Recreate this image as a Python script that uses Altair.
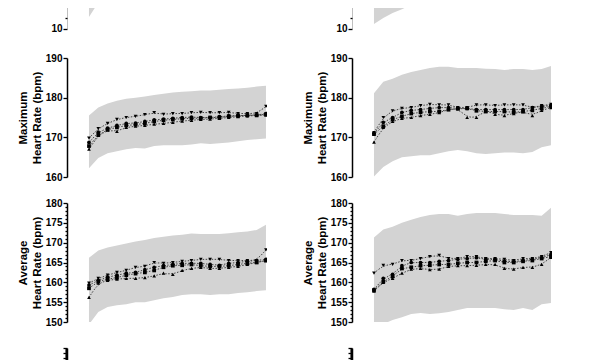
import altair as alt
import pandas as pd

x_index = list(range(1, 21))
series_names = ["A", "B", "C", "D"]
shape_range = ["triangle-down", "circle", "square", "triangle-up"]

# ---- top partial panels (only the lower edge of the band is visible) ----
top_left_lo = [11.1, 12.4, 13.2, 13.8, 14.2, 14.5, 14.7, 14.9, 15.0, 15.1,
               15.2, 15.3, 15.3, 15.4, 15.4, 15.5, 15.5, 15.6, 15.6, 15.7]
top_left_hi = [19.5, 21.0, 21.8, 22.3, 22.6, 22.8, 23.0, 23.1, 23.2, 23.3,
               23.3, 23.4, 23.4, 23.5, 23.5, 23.6, 23.6, 23.7, 23.7, 23.8]
top_right_lo = [10.45, 11.0, 11.45, 11.8, 12.2, 12.55, 12.9, 13.1, 13.3, 13.4,
                13.5, 13.6, 13.6, 13.7, 13.7, 13.8, 13.8, 13.9, 13.9, 14.0]
top_right_hi = [19.0, 20.5, 21.3, 21.8, 22.1, 22.4, 22.6, 22.7, 22.8, 22.9,
                23.0, 23.0, 23.1, 23.1, 23.2, 23.2, 23.3, 23.3, 23.4, 23.5]

# ---- Maximum heart rate, left ----
maxL_hi = [175.5, 177.5, 178.5, 179.2, 179.7, 180.0, 180.3, 180.7, 181.0, 181.3,
           181.5, 181.6, 181.8, 181.8, 182.0, 182.2, 182.3, 182.5, 182.8, 183.0]
maxL_lo = [162.2, 164.8, 166.0, 166.5, 167.0, 167.3, 167.2, 167.8, 168.0, 168.0,
           168.0, 168.2, 168.5, 168.3, 168.5, 168.7, 169.0, 169.3, 169.5, 169.7]
maxL_A = [169.8, 172.2, 173.5, 174.5, 175.0, 175.3, 175.7, 176.2, 175.8, 176.0,
          176.0, 176.2, 176.3, 176.2, 176.2, 176.3, 176.0, 176.0, 176.0, 177.8]
maxL_B = [168.7, 171.3, 172.3, 173.0, 173.5, 173.6, 174.0, 174.4, 174.6, 174.8,
          175.0, 175.1, 175.0, 175.0, 175.2, 175.4, 175.5, 175.5, 175.6, 176.0]
maxL_C = [167.8, 170.6, 172.0, 172.5, 173.0, 173.2, 173.5, 174.0, 174.3, 174.5,
          174.7, 174.8, 174.8, 175.0, 175.0, 175.3, 175.4, 175.6, 175.6, 175.8]
maxL_D = [167.0, 170.5, 171.8, 171.5, 172.5, 172.8, 173.0, 173.3, 173.5, 173.8,
          174.1, 174.3, 174.5, 174.6, 174.8, 175.0, 175.2, 175.4, 175.5, 175.6]

# ---- Maximum heart rate, right ----
maxR_hi = [181.1, 184.0, 184.8, 185.8, 186.5, 187.0, 187.5, 187.8, 187.8, 187.5,
           187.5, 187.5, 187.3, 187.2, 187.0, 187.2, 187.2, 187.0, 187.2, 188.0]
maxR_lo = [160.1, 162.5, 164.0, 165.0, 165.2, 165.5, 165.5, 166.0, 166.5, 166.8,
           166.5, 166.0, 165.8, 166.0, 166.2, 166.2, 166.0, 166.3, 167.5, 168.0]
maxR_A = [171.2, 175.0, 176.7, 177.3, 177.5, 178.0, 178.3, 178.2, 178.2, 177.5,
          177.5, 178.2, 178.2, 178.0, 178.2, 178.2, 178.2, 177.5, 178.0, 178.3]
maxR_B = [171.0, 173.8, 175.0, 176.3, 176.8, 177.0, 177.3, 177.5, 177.5, 177.3,
          177.3, 177.0, 177.0, 177.0, 177.0, 177.0, 177.0, 177.5, 177.8, 178.0]
maxR_C = [170.8, 172.8, 174.5, 175.3, 176.0, 176.3, 176.5, 176.5, 177.0, 177.2,
          177.3, 176.7, 176.5, 176.5, 176.5, 176.3, 176.5, 176.8, 177.3, 177.8]
maxR_D = [168.8, 172.5, 174.0, 174.8, 175.0, 175.5, 175.8, 176.2, 177.0, 177.3,
          175.0, 175.0, 176.8, 175.8, 175.5, 176.0, 176.5, 175.5, 176.8, 177.5]

# ---- Average heart rate, left ----
avgL_hi = [166.2, 168.0, 168.8, 169.3, 169.8, 170.3, 170.7, 171.2, 171.5, 171.8,
           172.0, 172.3, 172.2, 172.2, 172.2, 172.4, 172.6, 172.8, 173.2, 174.5]
avgL_lo = [149.4, 152.5, 153.8, 154.2, 154.5, 155.0, 155.0, 155.5, 156.0, 156.3,
           156.8, 157.0, 157.0, 156.8, 157.0, 157.0, 157.3, 157.5, 157.8, 158.0]
avgL_A = [159.8, 161.0, 161.8, 162.5, 163.0, 163.8, 164.0, 165.0, 164.8, 165.0,
          165.3, 165.5, 165.8, 165.8, 165.8, 165.5, 165.5, 165.5, 165.5, 168.2]
avgL_B = [159.3, 160.5, 161.3, 161.8, 162.3, 162.5, 163.2, 163.8, 164.2, 164.5,
          164.8, 164.8, 164.8, 164.5, 164.3, 164.8, 165.0, 165.3, 165.5, 165.8]
avgL_C = [158.5, 160.2, 160.8, 161.2, 161.8, 162.2, 162.5, 163.0, 163.8, 164.2,
          164.3, 164.5, 164.2, 164.0, 164.0, 164.2, 164.5, 164.8, 165.0, 165.5]
avgL_D = [156.2, 159.8, 160.5, 160.8, 161.0, 161.0, 161.2, 161.6, 162.3, 162.0,
          163.0, 163.5, 163.8, 163.5, 163.5, 163.8, 164.0, 164.5, 165.0, 165.5]

# ---- Average heart rate, right ----
avgR_hi = [171.3, 173.3, 174.0, 175.0, 175.8, 176.5, 177.0, 177.2, 177.2, 176.8,
           177.2, 177.5, 177.5, 177.5, 177.2, 177.0, 177.0, 177.0, 176.8, 178.8]
avgR_lo = [147.5, 149.5, 150.5, 151.2, 152.0, 152.3, 152.0, 152.2, 152.5, 153.0,
           153.5, 153.5, 153.5, 153.5, 153.2, 153.0, 153.5, 153.0, 154.5, 154.8]
avgR_A = [162.3, 164.3, 164.5, 165.5, 165.5, 166.0, 166.5, 166.8, 166.0, 166.0,
          166.5, 166.5, 166.0, 166.0, 165.8, 165.5, 166.0, 166.0, 166.5, 167.5]
avgR_B = [158.2, 161.0, 162.0, 164.2, 165.0, 165.0, 165.0, 165.3, 165.5, 165.8,
          166.0, 166.2, 165.8, 165.8, 165.3, 165.2, 165.5, 165.8, 166.2, 167.0]
avgR_C = [158.0, 160.2, 161.5, 163.5, 163.8, 164.2, 164.3, 164.5, 164.5, 164.8,
          165.0, 165.0, 165.3, 165.5, 165.0, 165.0, 165.3, 165.5, 166.0, 166.5]
avgR_D = [157.8, 160.0, 161.0, 162.3, 163.3, 163.5, 163.2, 163.3, 164.0, 164.2,
          164.2, 164.3, 164.5, 164.5, 163.5, 163.3, 163.8, 163.8, 164.5, 166.3]

max_ticks = [160, 170, 180, 190]
avg_ticks = list(range(150, 181))
top_ticks = [10, 11]
top_domain = [9.727, 11.91]
bottom_ticks = list(range(0, 31))

FONT = "Liberation Sans"
W = 200
xscale = alt.Scale(domain=[-1.36, 20.11], nice=False, zero=False)


def make_axis(values, major_test, labels=True, domain=True):
    kw = dict(
        values=values,
        labelExpr=f"({major_test}) ? datum.label : ''",
        tickSize={"condition": {"test": major_test, "value": 4}, "value": 2},
        labelOverlap=False,
        labelPadding=1,
        titlePadding=3,
        grid=False,
        domain=domain,
    )
    if not labels:
        kw["labels"] = False
    return alt.Axis(**kw)


def panel(lo, hi, series, domain, axis, title, height, axis_rule=None):
    band = pd.DataFrame({"x": x_index, "lo": lo, "hi": hi})
    yscale = alt.Scale(domain=domain, nice=False, zero=False)
    area = alt.Chart(band).mark_area(color="#d3d3d3", clip=True).encode(
        x=alt.X("x:Q", scale=xscale, axis=None),
        y=alt.Y("lo:Q", scale=yscale, axis=axis, title=title),
        y2="hi:Q",
    )
    layers = [area]
    if series:
        rows = []
        for name, vals in zip(series_names, series):
            for xi, v in zip(x_index, vals):
                rows.append({"x": xi, "v": v, "s": name})
        df = pd.DataFrame(rows)
        lines = alt.Chart(df).mark_line(
            strokeDash=[1.5, 1.5], color="#333333", strokeWidth=0.9,
            interpolate="basis", clip=True,
        ).encode(
            x=alt.X("x:Q", scale=xscale, axis=None),
            y=alt.Y("v:Q", scale=yscale, axis=axis, title=title),
            detail="s:N",
        )
        pts = alt.Chart(df).mark_point(
            filled=True, color="black", opacity=1, size=14, clip=True
        ).encode(
            x=alt.X("x:Q", scale=xscale, axis=None),
            y=alt.Y("v:Q", scale=yscale, axis=axis, title=title),
            shape=alt.Shape("s:N", scale=alt.Scale(domain=series_names, range=shape_range), legend=None),
        )
        layers += [lines, pts]
    if axis_rule is not None:
        rule_df = pd.DataFrame({"a": [axis_rule[0]], "b": [axis_rule[1]]})
        rule = alt.Chart(rule_df).mark_rule(color="black", strokeWidth=1.5, clip=True).encode(
            x=alt.value(-0.5),
            y=alt.Y("a:Q", scale=yscale, axis=axis, title=title),
            y2="b:Q",
        )
        layers.append(rule)
    return alt.layer(*layers).properties(width=W, height=height)


def empty_panel(height):
    df = pd.DataFrame({"v": bottom_ticks})
    return alt.Chart(df).mark_tick(opacity=0).encode(
        y=alt.Y("v:Q", scale=alt.Scale(domain=[0, 30], nice=False),
                axis=make_axis(bottom_ticks, "datum.value % 5 === 0", labels=False),
                title=None),
    ).properties(width=W, height=height)


max_axis = alt.Axis(values=max_ticks, tickSize=4, labelPadding=1, titlePadding=3, grid=False)
avg_axis = make_axis(avg_ticks, "datum.value % 5 === 0")
top_axis = make_axis(top_ticks, "datum.value % 2 === 0", domain=False)

max_title = ["Maximum", "Heart Rate (bpm)"]
avg_title = ["Average", "Heart Rate (bpm)"]

panels = [
    panel(top_left_lo, top_left_hi, None, top_domain, top_axis, None, 24,
          axis_rule=(top_ticks[0], top_domain[1])),
    panel(top_right_lo, top_right_hi, None, top_domain, top_axis, None, 24,
          axis_rule=(top_ticks[0], top_domain[1])),
    panel(maxL_lo, maxL_hi, [maxL_A, maxL_B, maxL_C, maxL_D], [160, 190], max_axis, max_title, 119),
    panel(maxR_lo, maxR_hi, [maxR_A, maxR_B, maxR_C, maxR_D], [160, 190], max_axis, max_title, 119),
    panel(avgL_lo, avgL_hi, [avgL_A, avgL_B, avgL_C, avgL_D], [150, 180], avg_axis, avg_title, 119),
    panel(avgR_lo, avgR_hi, [avgR_A, avgR_B, avgR_C, avgR_D], [150, 180], avg_axis, avg_title, 119),
    empty_panel(30),
    empty_panel(30),
]

chart = alt.concat(
    *panels, columns=2, spacing=alt.RowColnumber(row=26, column=85),
    bounds="flush", align="each",
).resolve_scale(y="independent").properties(
    padding={"left": 9, "top": 0, "right": 5, "bottom": 0},
    background="white",
).configure_view(stroke=None).configure_axis(
    domainColor="black", domainWidth=1.5, tickColor="black", tickWidth=1.3,
    labelFont=FONT, labelFontSize=10, labelFontWeight="bold", labelColor="black",
    titleFont=FONT, titleFontSize=11.5, titleFontWeight="bold", titleColor="black",
    titleLineHeight=13.5,
)

chart.save("out.html", embed_options={"renderer": "svg", "actions": False})
